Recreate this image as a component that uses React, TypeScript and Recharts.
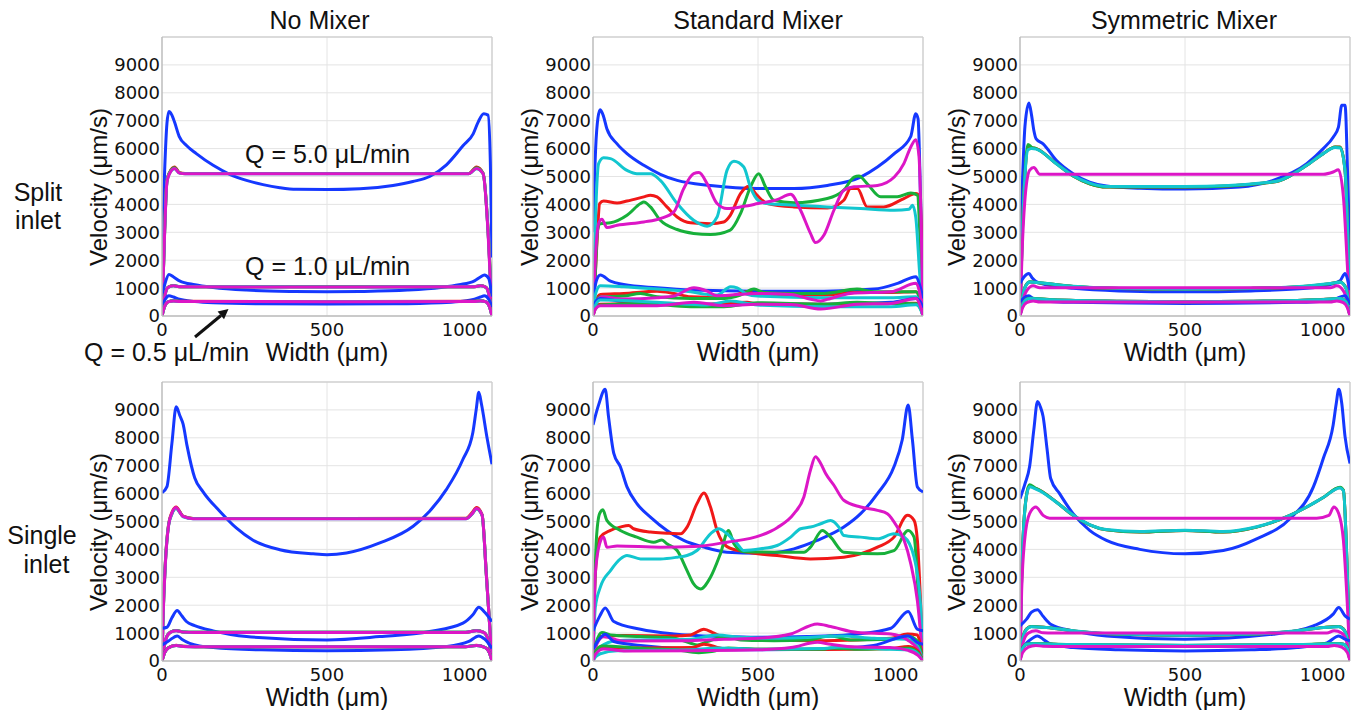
import React from 'react';
import { LineChart, Line, XAxis, YAxis, CartesianGrid, ReferenceLine } from 'recharts';

type Pt = [number, number];

// ---------- No Mixer / Split inlet
const nmSpB5: Pt[] = [[0,2100],[8,5200],[15,6900],[21,7330],[30,7200],[38,6950],[52,6440],[75,6100],[104,5820],[155,5400],[205,5080],[256,4860],[306,4710],[357,4600],[407,4540],[500,4530],[600,4560],[700,4680],[760,4820],[811,5000],[862,5420],[912,6100],[943,6530],[958,6950],[975,7250],[988,7200],[995,5500],[1000,2100]];
const nmSpR5: Pt[] = [[0,0],[8,3080],[15,4860],[23,5150],[38,5340],[53,5140],[70,5110],[500,5110],[930,5110],[953,5340],[973,5120],[988,3080],[1000,0]];
const nmSpG5: Pt[] = [[0,0],[8,3060],[15,4840],[23,5140],[38,5310],[53,5130],[70,5110],[500,5110],[930,5110],[953,5310],[973,5110],[988,3060],[1000,0]];
const nmSpC5: Pt[] = [[0,0],[8,3040],[15,4820],[23,5120],[38,5280],[53,5120],[70,5100],[500,5100],[930,5100],[953,5280],[973,5100],[988,3040],[1000,0]];
const nmSpM5: Pt[] = [[0,0],[8,3000],[15,4800],[23,5100],[38,5290],[53,5120],[70,5100],[500,5100],[930,5100],[953,5290],[973,5100],[988,3000],[1000,0]];
const nmSpB1: Pt[] = [[0,700],[10,1200],[21,1490],[35,1400],[53,1260],[100,1120],[155,1025],[256,930],[400,880],[500,870],[600,880],[744,930],[845,1025],[900,1120],[947,1260],[965,1400],[977,1470],[990,1350],[1000,700]];
const nmSpR1: Pt[] = [[0,0],[8,700],[18,1030],[35,1090],[55,1050],[500,1045],[945,1050],[965,1090],[982,1030],[992,700],[1000,0]];
const nmSpG1: Pt[] = [[0,0],[8,690],[18,1025],[35,1085],[55,1050],[500,1045],[945,1050],[965,1085],[982,1025],[992,690],[1000,0]];
const nmSpC1: Pt[] = [[0,0],[8,680],[18,1020],[35,1080],[55,1048],[500,1043],[945,1048],[965,1080],[982,1020],[992,680],[1000,0]];
const nmSpM1: Pt[] = [[0,0],[8,680],[18,1020],[35,1080],[55,1045],[500,1040],[945,1045],[965,1080],[982,1020],[992,680],[1000,0]];
const nmSpBh: Pt[] = [[0,330],[10,600],[21,727],[35,680],[53,600],[100,520],[155,477],[300,440],[500,430],[700,440],[845,477],[900,520],[947,600],[965,680],[977,727],[990,600],[1000,330]];
const nmSpRh: Pt[] = [[0,0],[8,350],[18,510],[35,550],[55,525],[500,520],[945,525],[965,550],[982,510],[992,350],[1000,0]];
const nmSpGh: Pt[] = [[0,0],[8,345],[18,508],[35,545],[55,524],[500,520],[945,524],[965,545],[982,508],[992,345],[1000,0]];
const nmSpCh: Pt[] = [[0,0],[8,340],[18,505],[35,542],[55,522],[500,518],[945,522],[965,542],[982,505],[992,340],[1000,0]];
const nmSpMh: Pt[] = [[0,0],[8,340],[18,505],[35,540],[55,520],[500,515],[945,520],[965,540],[982,505],[992,340],[1000,0]];

// ---------- Standard Mixer / Split inlet
const stSpB5: Pt[] = [[0,3000],[8,6000],[15,7100],[22,7390],[32,7150],[42,6710],[73,6170],[103,5820],[154,5400],[204,5080],[255,4860],[356,4680],[500,4570],[609,4570],[710,4680],[811,4980],[862,5340],[913,5820],[963,6440],[978,7250],[985,7070],[993,4000],[1000,500]];
const stSpR5: Pt[] = [[0,0],[7,1500],[14,3080],[20,4030],[32,4120],[73,4050],[103,4120],[154,4270],[174,4330],[194,4270],[224,3910],[255,3550],[295,3340],[356,3310],[396,3370],[416,3610],[447,4390],[472,4650],[497,4330],[528,4030],[609,3910],[710,3870],[760,4150],[781,4570],[801,4570],[831,3910],[881,3910],[942,4210],[978,4390],[991,4270],[1000,0]];
const stSpG5: Pt[] = [[0,0],[7,1500],[14,3080],[22,3310],[53,3340],[103,3610],[144,4030],[154,4090],[174,3910],[204,3430],[255,3100],[305,2960],[356,2920],[416,3080],[447,3670],[477,4620],[502,5100],[523,4620],[548,4150],[609,4060],[710,4210],[760,4510],[791,4980],[806,5020],[831,4740],[872,4270],[922,4270],[963,4410],[983,4330],[992,2500],[1000,0]];
const stSpC5: Pt[] = [[0,0],[5,2500],[10,4270],[17,5460],[32,5670],[53,5640],[103,5220],[133,5100],[174,5100],[204,4860],[255,4030],[305,3430],[346,3220],[376,3550],[406,5220],[427,5550],[457,5340],[477,4620],[500,4150],[528,4030],[609,3970],[710,3910],[811,3850],[913,3790],[958,3830],[968,3970],[978,3550],[990,1500],[1000,0]];
const stSpM5: Pt[] = [[0,0],[5,1500],[10,2600],[17,3310],[27,3470],[42,3170],[73,3250],[154,3370],[204,3490],[245,3730],[275,4570],[305,5100],[321,5140],[346,4740],[376,4030],[406,3850],[457,3930],[500,4030],[558,4170],[599,4360],[629,3790],[659,2960],[674,2630],[700,2900],[730,3790],[760,4510],[791,4630],[862,4680],[913,4980],[942,5460],[963,6060],[978,6320],[988,5700],[995,3000],[1000,0]];
const stSpB1: Pt[] = [[0,600],[10,1250],[22,1470],[53,1250],[93,1130],[194,1010],[296,930],[498,890],[700,890],[852,965],[923,1170],[979,1410],[990,1100],[1000,630]];
const stSpR1: Pt[] = [[0,0],[8,500],[22,775],[93,810],[194,890],[245,810],[296,690],[397,667],[447,810],[467,870],[498,775],[700,750],[802,845],[903,845],[979,870],[992,500],[1000,0]];
const stSpG1: Pt[] = [[0,0],[8,450],[22,690],[93,715],[144,810],[194,690],[296,630],[397,630],[447,750],[488,965],[518,845],[600,810],[700,810],[800,965],[852,870],[979,870],[992,500],[1000,0]];
const stSpC1: Pt[] = [[0,0],[8,800],[22,1085],[93,1050],[194,965],[296,870],[346,775],[376,750],[417,1050],[437,1010],[467,775],[498,715],[700,655],[903,655],[979,690],[992,400],[1000,0]];
const stSpM1: Pt[] = [[0,0],[8,450],[27,690],[93,610],[194,655],[245,715],[306,1010],[346,890],[376,725],[498,810],[600,775],[660,600],[690,540],[720,630],[780,810],[903,870],[979,1170],[992,700],[1000,0]];
const stSpBh: Pt[] = [[0,300],[10,550],[22,630],[93,510],[296,430],[498,420],[700,420],[903,490],[979,630],[992,500],[1000,300]];
const stSpRh: Pt[] = [[0,0],[8,300],[22,420],[194,450],[296,395],[467,490],[498,430],[700,420],[903,450],[979,460],[992,300],[1000,0]];
const stSpGh: Pt[] = [[0,0],[8,280],[22,395],[144,450],[296,335],[397,335],[498,475],[700,420],[800,490],[903,450],[979,440],[992,280],[1000,0]];
const stSpCh: Pt[] = [[0,0],[8,400],[22,570],[194,490],[346,395],[417,535],[498,395],[700,335],[903,335],[979,400],[992,250],[1000,0]];
const stSpMh: Pt[] = [[0,0],[8,260],[22,370],[194,370],[306,490],[397,370],[498,420],[600,410],[690,250],[800,420],[903,450],[979,630],[992,350],[1000,0]];

// ---------- Symmetric Mixer / Split inlet
const sySpB5: Pt[] = [[0,2000],[8,5000],[15,6800],[27,7630],[35,7200],[42,6650],[49,6350],[70,6170],[110,5580],[161,5100],[211,4800],[262,4660],[363,4580],[500,4550],[666,4620],[767,4860],[869,5460],[919,6000],[949,6410],[965,6770],[975,7550],[985,7550],[993,5000],[1000,2000]];
const sySpR5: Pt[] = [[0,0],[7,3000],[14,4860],[24,6020],[35,6030],[49,6000],[110,5460],[161,5020],[211,4740],[262,4620],[500,4620],[767,4800],[869,5400],[919,5820],[955,6060],[970,6060],[985,5220],[993,3000],[1000,0]];
const sySpG5: Pt[] = [[0,0],[7,3000],[14,4860],[24,6150],[35,6050],[49,6000],[110,5460],[161,5020],[211,4740],[262,4620],[500,4620],[767,4800],[869,5400],[919,5820],[955,6060],[970,6050],[985,5220],[993,3000],[1000,0]];
const sySpC5: Pt[] = [[0,0],[7,2950],[14,4820],[24,5950],[35,6000],[49,5980],[110,5460],[161,5030],[211,4760],[262,4640],[500,4640],[767,4810],[869,5400],[919,5820],[955,6040],[970,6020],[985,5200],[993,2950],[1000,0]];
const sySpM5: Pt[] = [[0,0],[7,2500],[14,4030],[29,5220],[42,5320],[60,5080],[100,5080],[919,5080],[949,5160],[965,5240],[980,4270],[992,1800],[1000,0]];
const sySpB1: Pt[] = [[0,1170],[12,1400],[27,1525],[38,1350],[49,1230],[100,1080],[161,990],[300,900],[500,870],[700,900],[869,990],[930,1100],[970,1265],[985,1525],[993,1300],[1000,930]];
const sySpR1: Pt[] = [[0,0],[8,700],[18,1100],[30,1215],[60,1185],[161,1060],[300,990],[500,965],[700,990],[869,1070],[940,1160],[970,1210],[988,1000],[1000,0]];
const sySpG1: Pt[] = [[0,0],[8,700],[18,1100],[30,1225],[60,1190],[161,1060],[300,990],[500,965],[700,990],[869,1070],[940,1160],[970,1215],[988,1000],[1000,0]];
const sySpC1: Pt[] = [[0,0],[8,690],[18,1090],[30,1220],[60,1190],[161,1065],[300,995],[500,970],[700,995],[869,1075],[940,1165],[970,1210],[988,990],[1000,0]];
const sySpM1: Pt[] = [[0,0],[8,500],[20,900],[40,1080],[60,1015],[100,1010],[940,1010],[960,1080],[980,900],[992,500],[1000,0]];
const sySpBh: Pt[] = [[0,500],[12,650],[27,727],[38,640],[60,550],[161,490],[500,450],[839,490],[940,550],[962,640],[985,727],[993,600],[1000,400]];
const sySpRh: Pt[] = [[0,0],[8,400],[20,600],[30,625],[100,580],[300,530],[500,510],[700,530],[900,580],[970,625],[988,500],[1000,0]];
const sySpGh: Pt[] = [[0,0],[8,400],[20,600],[30,632],[100,582],[300,530],[500,510],[700,530],[900,582],[970,630],[988,500],[1000,0]];
const sySpCh: Pt[] = [[0,0],[8,400],[20,600],[30,630],[100,580],[300,530],[500,510],[700,530],[900,580],[970,630],[988,500],[1000,0]];
const sySpMh: Pt[] = [[0,0],[8,300],[20,480],[40,540],[60,500],[940,500],[960,540],[980,480],[992,300],[1000,0]];

// ---------- No Mixer / Single inlet
const nmSiB5: Pt[] = [[0,6030],[15,6250],[30,7800],[43,9110],[54,8800],[64,8490],[76,7710],[99,6570],[124,6070],[175,5370],[225,4770],[276,4330],[357,3990],[458,3840],[500,3810],[559,3870],[660,4230],[761,4830],[811,5370],[862,6150],[912,7230],[942,8190],[952,9000],[960,9630],[968,9210],[985,8000],[1000,7050]];
const nmSiR5: Pt[] = [[0,0],[3,1500],[10,3500],[20,4900],[30,5320],[43,5520],[54,5350],[64,5190],[94,5110],[500,5110],[922,5120],[940,5320],[953,5500],[970,5250],[983,3090],[1000,0]];
const nmSiG5: Pt[] = [[0,0],[3,1500],[10,3500],[20,4880],[30,5280],[43,5480],[54,5330],[64,5180],[94,5110],[500,5110],[922,5110],[940,5280],[953,5460],[970,5230],[983,3080],[1000,0]];
const nmSiC5: Pt[] = [[0,0],[3,1450],[10,3450],[20,4860],[30,5270],[43,5470],[54,5320],[64,5170],[94,5100],[500,5100],[922,5100],[940,5270],[953,5450],[970,5220],[983,3060],[1000,0]];
const nmSiM5: Pt[] = [[0,0],[3,1450],[10,3450],[20,4860],[30,5300],[43,5500],[54,5330],[64,5180],[94,5100],[500,5100],[922,5100],[940,5280],[953,5470],[970,5230],[983,3060],[1000,0]];
const nmSiB1: Pt[] = [[0,1175],[15,1210],[30,1550],[46,1810],[60,1620],[74,1415],[99,1270],[155,1080],[256,875],[500,755],[660,875],[811,1055],[912,1355],[942,1655],[960,1930],[978,1750],[1000,1415]];
const nmSiR1: Pt[] = [[0,0],[5,400],[12,800],[25,1030],[43,1095],[64,1040],[100,1030],[920,1030],[953,1095],[975,1030],[990,700],[1000,0]];
const nmSiG1: Pt[] = [[0,0],[5,400],[12,800],[25,1030],[43,1090],[64,1040],[100,1030],[920,1030],[953,1090],[975,1030],[990,700],[1000,0]];
const nmSiC1: Pt[] = [[0,0],[5,390],[12,790],[25,1025],[43,1085],[64,1038],[100,1028],[920,1028],[953,1085],[975,1025],[990,690],[1000,0]];
const nmSiM1: Pt[] = [[0,0],[5,390],[12,790],[25,1025],[43,1085],[64,1035],[100,1025],[920,1025],[953,1085],[975,1025],[990,690],[1000,0]];
const nmSiBh: Pt[] = [[0,575],[20,720],[46,900],[60,780],[84,635],[155,480],[300,400],[500,370],[700,400],[862,515],[930,700],[960,900],[978,780],[1000,455]];
const nmSiRh: Pt[] = [[0,0],[8,300],[20,480],[43,565],[64,525],[100,515],[920,515],[953,565],[980,480],[992,300],[1000,0]];
const nmSiGh: Pt[] = [[0,0],[8,300],[20,480],[43,560],[64,525],[100,515],[920,515],[953,560],[980,480],[992,300],[1000,0]];
const nmSiCh: Pt[] = [[0,0],[8,295],[20,475],[43,558],[64,522],[100,512],[920,512],[953,558],[980,475],[992,295],[1000,0]];
const nmSiMh: Pt[] = [[0,0],[8,295],[20,475],[43,555],[64,520],[100,510],[920,510],[953,555],[980,475],[992,295],[1000,0]];

// ---------- Standard Mixer / Single inlet
const stSiB5: Pt[] = [[0,8460],[17,9180],[37,9740],[47,8760],[63,7440],[83,6960],[103,6240],[133,5640],[174,5160],[224,4680],[275,4320],[336,4080],[406,3900],[502,3860],[558,3900],[609,4020],[679,4320],[760,4800],[811,5280],[862,6000],[912,6960],[937,7920],[955,9180],[968,7920],[983,6240],[1000,6060]];
const stSiR5: Pt[] = [[0,0],[7,3120],[22,4440],[53,4680],[83,4800],[108,4860],[123,4740],[174,4620],[224,4580],[265,4560],[285,4800],[315,5640],[336,6020],[356,5520],[376,4680],[406,4100],[457,3920],[558,3780],[659,3660],[760,3720],[862,4080],[912,4440],[953,5220],[973,5040],[983,4320],[993,2000],[1000,0]];
const stSiG5: Pt[] = [[0,0],[5,2500],[10,4320],[20,5280],[30,5420],[42,5040],[83,4680],[133,4440],[184,4260],[209,4340],[224,4200],[255,3960],[285,3240],[305,2760],[326,2580],[356,3000],[386,3840],[411,4680],[427,4200],[457,3920],[558,3900],[639,3900],[659,4080],[695,4680],[720,4440],[760,3900],[862,3840],[912,3960],[955,4680],[973,4440],[988,1920],[1000,0]];
const stSiC5: Pt[] = [[0,0],[7,1920],[22,2640],[53,3240],[83,3660],[103,3780],[144,3660],[204,3660],[255,3720],[285,3780],[315,3960],[356,4560],[381,4740],[406,4560],[437,4200],[457,3960],[508,4020],[558,4140],[599,4440],[629,4740],[659,4800],[690,4920],[720,5040],[745,4800],[760,4500],[811,4440],[862,4380],[912,4560],[943,4440],[973,3720],[993,1920],[1000,0]];
const stSiM5: Pt[] = [[0,0],[7,3120],[20,4200],[32,4440],[42,4080],[73,4120],[204,4080],[305,4100],[406,4260],[508,4500],[558,4780],[609,5280],[639,5880],[659,6840],[674,7320],[690,7080],[705,6720],[730,6300],[760,5760],[811,5520],[862,5400],[892,5280],[922,4800],[943,4320],[963,3480],[983,2160],[1000,0]];
const stSiB1: Pt[] = [[0,1080],[20,1600],[37,1900],[63,1415],[144,1140],[245,970],[397,875],[498,850],[650,875],[802,970],[903,1175],[955,1775],[983,1140],[1000,1080]];
const stSiR1: Pt[] = [[0,0],[8,500],[22,875],[93,910],[245,900],[296,935],[336,1140],[367,995],[397,850],[498,780],[700,730],[903,815],[953,970],[983,935],[993,500],[1000,0]];
const stSiG1: Pt[] = [[0,0],[8,600],[27,1020],[53,935],[144,875],[245,815],[296,635],[316,575],[346,695],[407,875],[447,755],[549,730],[650,755],[720,900],[781,755],[903,780],[953,900],[985,700],[1000,0]];
const stSiC1: Pt[] = [[0,0],[8,300],[22,515],[73,730],[144,755],[296,780],[376,935],[447,850],[549,815],[700,875],[751,900],[852,815],[953,780],[985,500],[1000,0]];
const stSiM1: Pt[] = [[0,0],[8,500],[32,870],[93,720],[296,730],[397,780],[498,815],[599,970],[680,1330],[720,1235],[802,1020],[903,970],[953,755],[985,400],[1000,0]];
const stSiBh: Pt[] = [[0,420],[20,800],[37,960],[63,700],[144,560],[300,430],[500,400],[700,430],[850,560],[955,900],[985,650],[1000,600]];
const stSiRh: Pt[] = [[0,0],[8,300],[22,480],[150,470],[300,480],[336,600],[397,440],[500,420],[700,410],[903,450],[955,520],[985,350],[1000,0]];
const stSiGh: Pt[] = [[0,0],[8,350],[27,540],[150,450],[250,400],[320,300],[360,340],[410,470],[500,420],[700,420],[720,470],[800,420],[955,460],[985,300],[1000,0]];
const stSiCh: Pt[] = [[0,0],[8,150],[22,260],[73,370],[144,380],[300,400],[376,470],[500,420],[700,450],[750,500],[900,420],[960,400],[985,250],[1000,0]];
const stSiMh: Pt[] = [[0,0],[8,250],[32,430],[100,360],[300,370],[500,400],[600,480],[680,670],[720,600],[800,500],[900,480],[955,380],[985,200],[1000,0]];

// ---------- Symmetric Mixer / Single inlet
const sySiB5: Pt[] = [[0,5820],[15,6350],[29,6960],[42,8300],[53,9300],[62,9100],[70,8760],[82,7600],[93,6540],[120,6000],[161,5280],[211,4680],[262,4320],[363,4000],[500,3840],[616,3960],[717,4380],[818,5100],[889,6240],[919,7260],[949,8460],[958,9200],[966,9740],[975,9240],[985,8040],[1000,7080]];
const sySiR5: Pt[] = [[0,0],[4,2500],[9,4320],[19,5880],[29,6280],[45,6200],[60,6120],[110,5700],[161,5220],[211,4880],[262,4700],[363,4620],[500,4680],[616,4620],[717,4800],[818,5220],[869,5520],[919,5860],[970,6220],[980,6120],[992,3120],[1000,0]];
const sySiG5: Pt[] = [[0,0],[4,2500],[9,4320],[19,5900],[29,6320],[45,6210],[60,6120],[110,5700],[161,5220],[211,4880],[262,4700],[363,4620],[500,4680],[616,4620],[717,4800],[818,5220],[869,5520],[919,5860],[970,6230],[980,6120],[992,3120],[1000,0]];
const sySiC5: Pt[] = [[0,0],[4,2450],[9,4280],[19,5860],[29,6250],[45,6180],[60,6100],[110,5690],[161,5230],[211,4890],[262,4710],[363,4640],[500,4690],[616,4640],[717,4810],[818,5220],[869,5520],[919,5860],[970,6200],[980,6100],[992,3080],[1000,0]];
const sySiM5: Pt[] = [[0,0],[5,2500],[14,4320],[29,5280],[48,5520],[70,5220],[90,5120],[899,5120],[936,5220],[951,5520],[966,5280],[980,4320],[992,2000],[1000,0]];
const sySiB1: Pt[] = [[0,1260],[20,1500],[35,1750],[53,1840],[70,1600],[93,1320],[161,1080],[262,900],[500,780],[767,960],[889,1260],[949,1680],[966,1920],[985,1620],[1000,1500]];
const sySiR1: Pt[] = [[0,0],[8,800],[20,1150],[34,1236],[80,1200],[161,1080],[300,960],[500,920],[700,960],[839,1080],[920,1200],[966,1236],[980,1150],[992,800],[1000,0]];
const sySiG1: Pt[] = [[0,0],[8,800],[20,1150],[34,1240],[80,1205],[161,1080],[300,960],[500,920],[700,960],[839,1080],[920,1205],[966,1240],[980,1150],[992,800],[1000,0]];
const sySiC1: Pt[] = [[0,0],[8,790],[20,1140],[34,1230],[80,1200],[161,1085],[300,965],[500,925],[700,965],[839,1085],[920,1200],[966,1230],[980,1140],[992,790],[1000,0]];
const sySiM1: Pt[] = [[0,0],[8,600],[25,1000],[48,1080],[70,1010],[100,1000],[930,1000],[952,1080],[975,1000],[992,600],[1000,0]];
const sySiBh: Pt[] = [[0,360],[25,700],[53,900],[70,780],[90,620],[161,480],[300,400],[500,360],[700,400],[839,480],[930,650],[966,900],[985,780],[1000,720]];
const sySiRh: Pt[] = [[0,0],[8,450],[20,600],[34,620],[150,590],[500,560],[850,590],[966,620],[980,600],[992,450],[1000,0]];
const sySiGh: Pt[] = [[0,0],[8,450],[20,605],[34,625],[150,592],[500,560],[850,592],[966,625],[980,605],[992,450],[1000,0]];
const sySiCh: Pt[] = [[0,0],[8,445],[20,600],[34,620],[150,590],[500,565],[850,590],[966,620],[980,600],[992,445],[1000,0]];
const sySiMh: Pt[] = [[0,0],[8,300],[25,500],[48,560],[70,525],[100,520],[930,520],[952,560],[975,500],[992,300],[1000,0]];

const X_TICKS = [0, 500, 1000];
const Y_TICKS = [0, 1000, 2000, 3000, 4000, 5000, 6000, 7000, 8000, 9000];
const COLUMN_TITLES = ['No Mixer', 'Standard Mixer', 'Symmetric Mixer'];

const BLUE = '#1538ff';
const RED = '#f01818';
const GREEN = '#17b03a';
const CYAN = '#12c6cf';
const MAGENTA = '#dc16c6';

const LABEL_FONT = '"Liberation Sans", Arial, sans-serif';
const TICK_FONT = '"DejaVu Sans", sans-serif';

// plot-area geometry
const COL_LEFT = [162, 593, 1020];
const ROW_TOP = [37, 382];
const PLOT_W = 330;
const PLOT_H = 279;
const Y_AXIS_W = 80;

type Series = { pts: Pt[]; color: string };

const group = (b: Pt[], r: Pt[], g: Pt[], c: Pt[], m: Pt[]): Series[] => [
  { pts: b, color: BLUE },
  { pts: r, color: RED },
  { pts: g, color: GREEN },
  { pts: c, color: CYAN },
  { pts: m, color: MAGENTA },
];

const panels = [
  { row: 0, col: 0, series: [...group(nmSpB5, nmSpR5, nmSpG5, nmSpC5, nmSpM5), ...group(nmSpB1, nmSpR1, nmSpG1, nmSpC1, nmSpM1), ...group(nmSpBh, nmSpRh, nmSpGh, nmSpCh, nmSpMh)] },
  { row: 0, col: 1, series: [...group(stSpB5, stSpR5, stSpG5, stSpC5, stSpM5), ...group(stSpB1, stSpR1, stSpG1, stSpC1, stSpM1), ...group(stSpBh, stSpRh, stSpGh, stSpCh, stSpMh)] },
  { row: 0, col: 2, series: [...group(sySpB5, sySpR5, sySpG5, sySpC5, sySpM5), ...group(sySpB1, sySpR1, sySpG1, sySpC1, sySpM1), ...group(sySpBh, sySpRh, sySpGh, sySpCh, sySpMh)] },
  { row: 1, col: 0, series: [...group(nmSiB5, nmSiR5, nmSiG5, nmSiC5, nmSiM5), ...group(nmSiB1, nmSiR1, nmSiG1, nmSiC1, nmSiM1), ...group(nmSiBh, nmSiRh, nmSiGh, nmSiCh, nmSiMh)] },
  { row: 1, col: 1, series: [...group(stSiB5, stSiR5, stSiG5, stSiC5, stSiM5), ...group(stSiB1, stSiR1, stSiG1, stSiC1, stSiM1), ...group(stSiBh, stSiRh, stSiGh, stSiCh, stSiMh)] },
  { row: 1, col: 2, series: [...group(sySiB5, sySiR5, sySiG5, sySiC5, sySiM5), ...group(sySiB1, sySiR1, sySiG1, sySiC1, sySiM1), ...group(sySiBh, sySiRh, sySiGh, sySiCh, sySiMh)] },
];

const XTick = ({ x, y, payload }: any) => {
  const last = payload.value === 1000;
  return (
    <text x={x + (last ? 1.5 : 0)} y={y + 20} textAnchor={last ? 'end' : 'middle'}
      fontFamily={TICK_FONT} fontSize={18} fill="#111">
      {payload.value}
    </text>
  );
};

const YTick = ({ x, y, payload }: any) => (
  <text x={x - 2} y={y} dy="0.36em" textAnchor="end" fontFamily={TICK_FONT} fontSize={18} fill="#111">
    {payload.value}
  </text>
);

function Panel({ row, col, series }: { row: number; col: number; series: Series[] }) {
  const left = COL_LEFT[col];
  const top = ROW_TOP[row];
  return (
    <div style={{ position: 'absolute', left: left - Y_AXIS_W, top: top - 10 }}>
      <LineChart width={PLOT_W + Y_AXIS_W + 10} height={PLOT_H + 60}
        margin={{ top: 10, right: 10, bottom: 0, left: 0 }}>
        <CartesianGrid stroke="#e4e4e4" strokeWidth={1} horizontalValues={Y_TICKS} verticalValues={[500]} />
        <XAxis dataKey="x" type="number" domain={[0, 1000]} ticks={X_TICKS} height={50}
          tickLine={false} tickSize={0} tickMargin={0} tick={<XTick />}
          axisLine={{ stroke: '#bdbdbd', strokeWidth: 1.5 }} allowDataOverflow />
        <YAxis type="number" domain={[0, 10000]} ticks={Y_TICKS} width={Y_AXIS_W}
          tickLine={false} tickSize={0} tickMargin={0} tick={<YTick />}
          axisLine={{ stroke: '#bdbdbd', strokeWidth: 1.5 }} allowDataOverflow />
        <ReferenceLine y={10000} stroke="#cfcfcf" strokeWidth={1.5} />
        <ReferenceLine x={1000} stroke="#cfcfcf" strokeWidth={1.5} />
        {series.map((s, i) => (
          <Line key={i} data={s.pts.map(([x, v]) => ({ x, v }))} dataKey="v" type="monotone"
            stroke={s.color} strokeWidth={3} dot={false} activeDot={false}
            isAnimationActive={false} />
        ))}
      </LineChart>
    </div>
  );
}

export default function App() {
  const txt = { fontFamily: LABEL_FONT, fill: '#111' };
  return (
    <div style={{ position: 'absolute', left: 0, top: 0, width: 1368, height: 710, background: '#fff', overflow: 'hidden' }}>
      {panels.map((p, i) => <Panel key={i} {...p} />)}
      <svg width={1368} height={710} style={{ position: 'absolute', left: 0, top: 0, pointerEvents: 'none' }}>
        <text x={319.5} y={29} textAnchor="middle" fontSize={25} {...txt}>{COLUMN_TITLES[0]}</text>
        <text x={758} y={29} textAnchor="middle" fontSize={25} {...txt}>{COLUMN_TITLES[1]}</text>
        <text x={1184} y={29} textAnchor="middle" fontSize={25} {...txt}>{COLUMN_TITLES[2]}</text>

        <text x={38} y={201} textAnchor="middle" fontSize={25} {...txt}>Split</text>
        <text x={38} y={229} textAnchor="middle" fontSize={25} {...txt}>inlet</text>
        <text x={42} y={544} textAnchor="middle" fontSize={25} {...txt}>Single</text>
        <text x={46.5} y={573} textAnchor="middle" fontSize={25} {...txt}>inlet</text>

        {ROW_TOP.map((t) => COL_LEFT.map((l) => (
          <g key={`${t}-${l}`}>
            <text transform={`translate(${l - 64}, ${t + 150}) rotate(-90)`} textAnchor="middle"
              dominantBaseline="central" fontSize={24} {...txt}>Velocity (μm/s)</text>
            <text x={l + PLOT_W / 2} y={t + PLOT_H + 45} textAnchor="middle" fontSize={25} {...txt}>Width (μm)</text>
          </g>
        )))}

        <text x={245} y={163} fontSize={25} {...txt}>Q = 5.0 μL/min</text>
        <text x={245} y={275} fontSize={25} {...txt}>Q = 1.0 μL/min</text>
        <text x={84} y={361} fontSize={25} {...txt}>Q = 0.5 μL/min</text>
        <line x1={195} y1={337} x2={221} y2={315.5} stroke="#111" strokeWidth={3} />
        <polygon points="228.5,309 224,319.3 217.6,311.5" fill="#111" />
      </svg>
    </div>
  );
}
